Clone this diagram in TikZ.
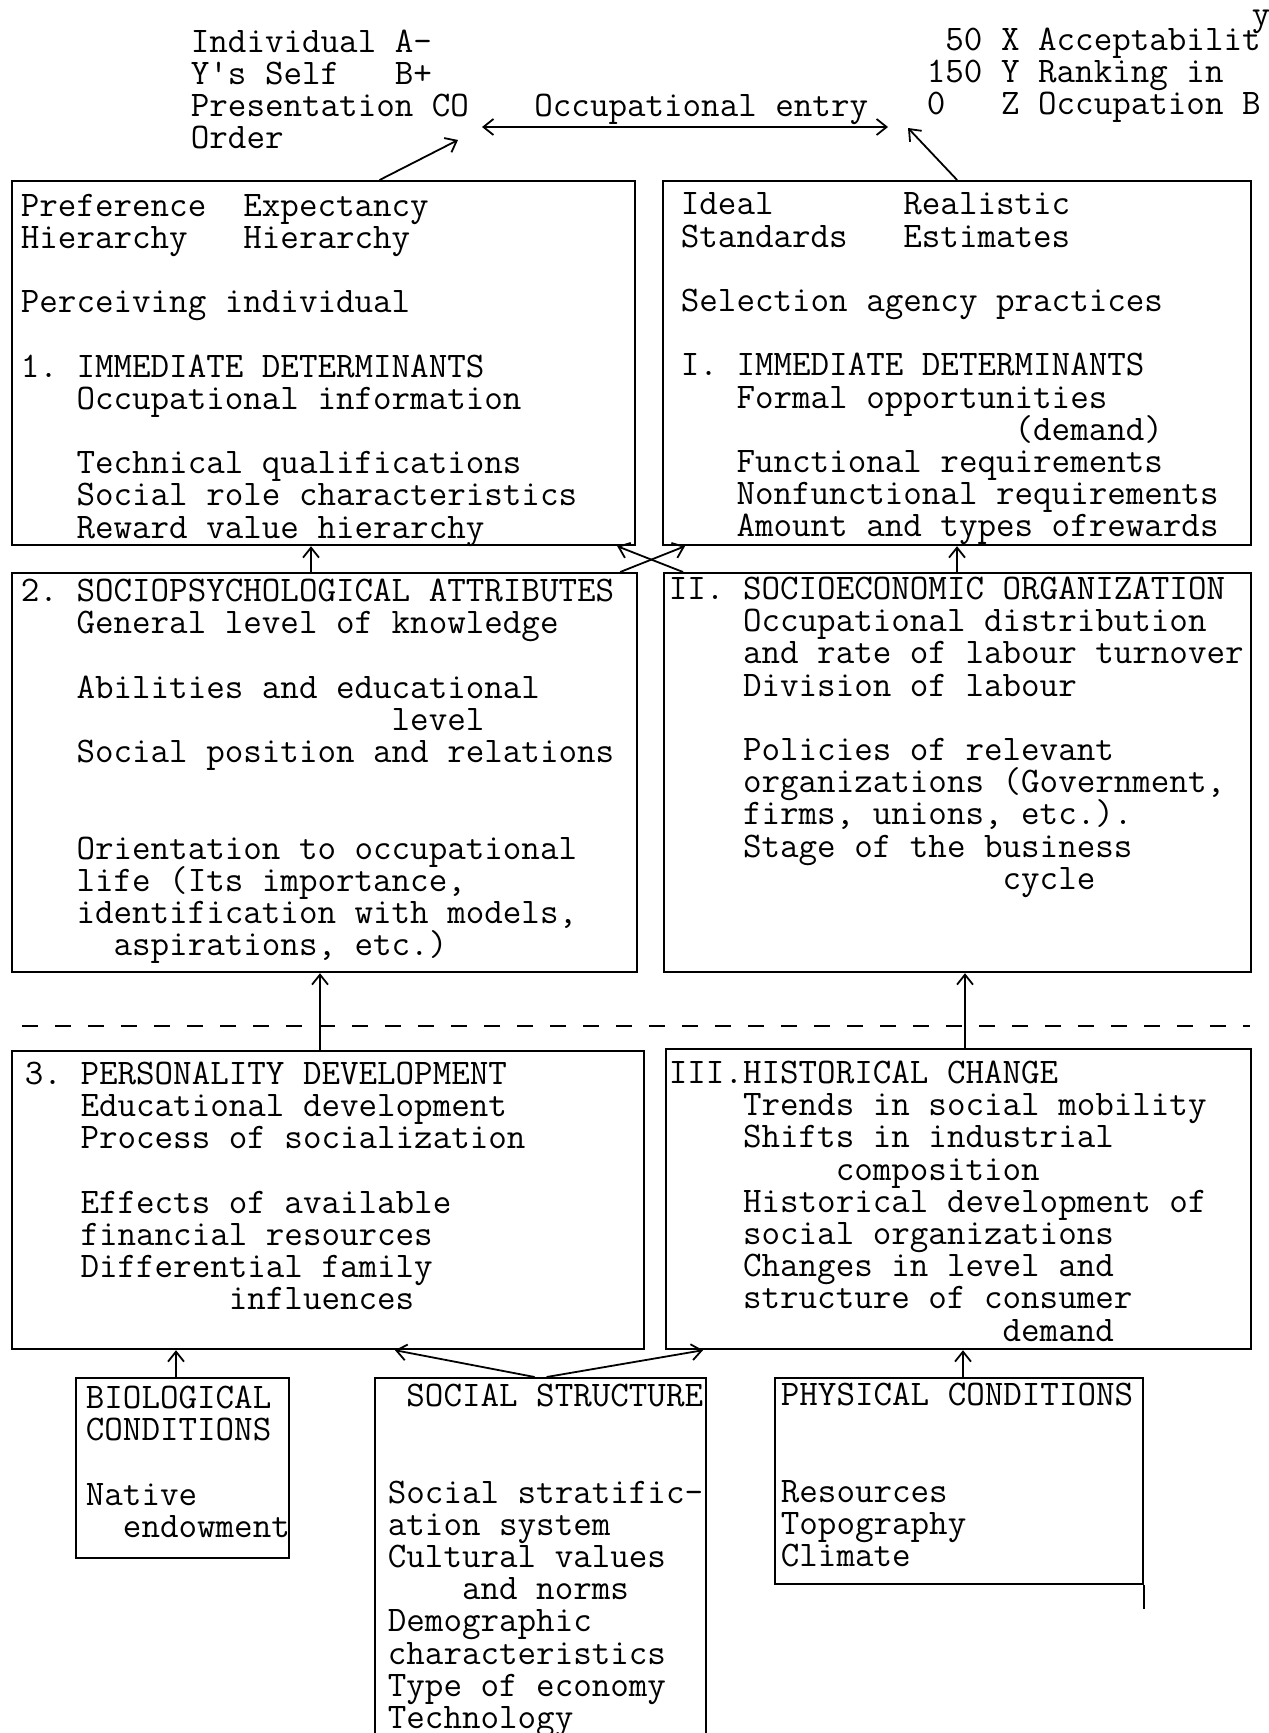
\documentclass[tikz,border=0pt]{standalone}
\usepackage{tikz}
\usetikzlibrary{arrows.meta}
\newcommand{\tw}{\ttfamily\fontsize{18}{16.1}\selectfont\frenchspacing\lineskiplimit=-20pt\relax}

\begin{document}
\begin{tikzpicture}[x=0.5pt,y=-0.5pt,>={Straight Barb[length=5pt,width=8pt]},
        box/.style={draw,line width=1.1pt,inner sep=0pt,anchor=north west},
        txt/.style={anchor=north west,inner sep=0pt,align=left,font=\tw},
        every path/.style={line width=.9pt}]
        \fill[white] (0,0) rectangle (1268,1733);
        \useasboundingbox (0,0) rectangle (1268,1733);
        \draw (190,29) node[txt] (who) {Individual A-\\Y's Self~~~B+\\Presentation CO\\Order};
        \draw (926,27) node[txt] (rank) {~50 X Acceptabilit\\150 Y Ranking in\\0~~~Z Occupation B};
        \draw (1251,9) node[txt] (yy) {y};
        \coordinate (eL) at (482,127);
        \coordinate (eR) at (888,127);
        \coordinate (pA) at (458,140);
        \coordinate (pB) at (908,128);
        \draw[<->] (eL) -- (eR) node[above,pos=.54,font=\tw,inner sep=0.8pt] (entry) {Occupational entry};
        \draw (11,180) node[box,minimum width=311.5pt,minimum height=182pt] (b1) {};
        \draw (662,180) node[box,minimum width=294pt,minimum height=182pt] (b2) {};
        \draw (11,572) node[box,minimum width=312.5pt,minimum height=199.5pt] (b3) {};
        \draw (663,572) node[box,minimum width=293.5pt,minimum height=199.5pt] (b4) {};
        \draw (11,1050) node[box,minimum width=316pt,minimum height=149pt] (b5) {};
        \draw (665,1048) node[box,minimum width=292.5pt,minimum height=150pt] (b6) {};
        \draw (75,1377) node[box,minimum width=106.5pt,minimum height=90pt] (bio) {};
        \draw (374,1377) node[box,minimum width=165.5pt,minimum height=200pt] (soc) {};
        \draw (774,1377) node[box,minimum width=184pt,minimum height=103pt] (phys) {};
        \draw (20,193) node[txt] (t1) {Preference~~Expectancy\\
                Hierarchy~~~Hierarchy\\
                \\
                Perceiving individual\\
                \\
                1. IMMEDIATE DETERMINANTS\\
                ~~~Occupational information\\
                \\
                ~~~Technical qualifications\\
                ~~~Social role characteristics\\
                ~~~Reward value hierarchy};
        \draw (680,192) node[txt] (t2) {Ideal~~~~~~~Realistic\\
                Standards~~~Estimates\\
                \\
                Selection agency practices\\
                \\
                I. IMMEDIATE DETERMINANTS\\
                ~~~Formal opportunities\\
                ~~~~~~~~~~~~~~~~~~(demand)\\
                ~~~Functional requirements\\
                ~~~Nonfunctional requirements\\
                ~~~Amount and types ofrewards};
        \draw (20,578) node[txt] (t3) {2. SOCIOPSYCHOLOGICAL ATTRIBUTES\\
                ~~~General level of knowledge\\
                \\
                ~~~Abilities and educational\\
                ~~~~~~~~~~~~~~~~~~~~level\\
                ~~~Social position and relations\\
                \\
                \\
                ~~~Orientation to occupational\\
                ~~~life (Its importance,\\
                ~~~identification with models,\\
                ~~~~~aspirations, etc.)};
        \draw (668,576) node[txt] (t4) {II. SOCIOECONOMIC ORGANIZATION\\
                ~~~~Occupational distribution\\
                ~~~~and rate of labour turnover\\
                ~~~~Division of labour\\
                \\
                ~~~~Policies of relevant\\
                ~~~~organizations (Government,\\
                ~~~~firms, unions, etc.).\\
                ~~~~Stage of the business\\
                ~~~~~~~~~~~~~~~~~~cycle};
        \draw (24,1061) node[txt] (t5) {3. PERSONALITY DEVELOPMENT\\
                ~~~Educational development\\
                ~~~Process of socialization\\
                \\
                ~~~Effects of available\\
                ~~~financial resources\\
                ~~~Differential family\\
                ~~~~~~~~~~~influences};
        \draw (668,1060) node[txt] (t6) {III.HISTORICAL CHANGE\\
                ~~~~Trends in social mobility\\
                ~~~~Shifts in industrial\\
                ~~~~~~~~~composition\\
                ~~~~Historical development of\\
                ~~~~social organizations\\
                ~~~~Changes in level and\\
                ~~~~structure of consumer\\
                ~~~~~~~~~~~~~~~~~~demand};
        \draw (85,1385) node[txt] (tbio) {BIOLOGICAL\\
                CONDITIONS\\
                \\
                Native\\
                ~~endowment};
        \draw (387,1383) node[txt] (tsoc) {~SOCIAL STRUCTURE\\
                \\
                \\
                Social stratific-\\
                ation system\\
                Cultural values\\
                ~~~~and norms\\
                Demographic\\
                characteristics\\
                Type of economy\\
                Technology};
        \draw (780,1382) node[txt] (tphys) {PHYSICAL CONDITIONS\\
                \\
                \\
                Resources\\
                Topography\\
                Climate};
        \coordinate (c1) at (311,0);
        \coordinate (c2) at (957,0);
        \coordinate (c3) at (320,0);
        \coordinate (c4) at (965,0);
        \coordinate (c5) at (176,0);
        \coordinate (c6) at (963,0);
        \coordinate (c7) at (395,0);
        \coordinate (c8) at (703,0);
        \draw[->] ([xshift=28pt]b1.north) -- (pA);
        \draw[->] (b2.north) -- (pB);
        \draw[->] (b3.north -| c1) -- (b1.south -| c1);
        \draw[->] (b4.north -| c2) -- (b2.south -| c2);
        \draw[->] ([xshift=10pt]b4.north west) -- ([xshift=-9.5pt]b1.south east);
        \draw[->] ([xshift=-9pt]b3.north east) -- ([xshift=11.5pt]b2.south west);
        \draw[line width=1.2pt,dash pattern=on 8pt off 8.5pt] (22,1026) -- (1250,1026);
        \draw[->] (b5.north -| c3) -- (b3.south -| c3);
        \draw[->] (b6.north -| c4) -- (b4.south -| c4);
        \draw[->] (bio.north -| c5) -- (b5.south -| c5);
        \draw[->] ([xshift=-3pt]soc.north) -- (b5.south -| c7);
        \draw[->] ([xshift=3pt]soc.north) -- (b6.south -| c8);
        \draw[->] (phys.north -| c6) -- (b6.south -| c6);
        \draw (phys.south east) -- ++(0,24);
\end{tikzpicture}
\end{document}
